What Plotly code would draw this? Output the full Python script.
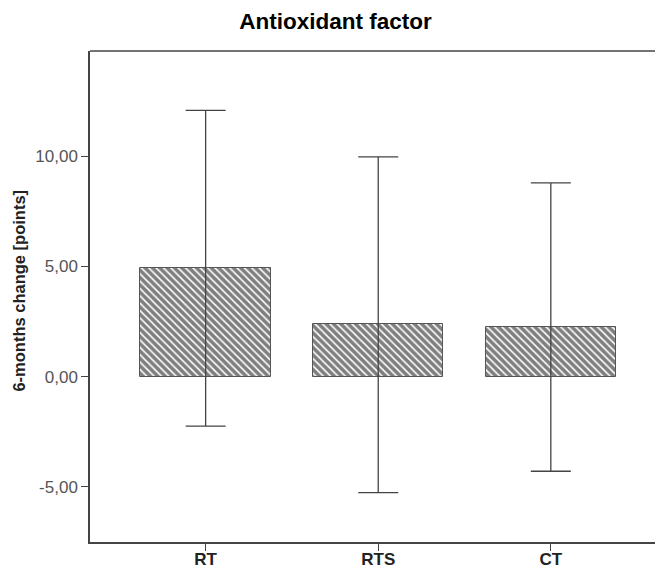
import plotly.graph_objects as go

categories = ["RT", "RTS", "CT"]
means = [4.92, 2.38, 2.27]
upper = [12.09, 9.98, 8.80]
lower = [-2.24, -5.26, -4.29]
ytick_vals = [-5, 0, 5, 10]
ytick_text = ["-5,00", "0,00", "5,00", "10,00"]

err_plus = [u - m for u, m in zip(upper, means)]
err_minus = [m - l for m, l in zip(means, lower)]

FONT = "Liberation Sans, Arial"

fig = go.Figure()
fig.add_trace(go.Bar(
    x=categories,
    y=means,
    width=0.755,
    marker=dict(
        color="white",
        line=dict(color="#555555", width=1),
        pattern=dict(shape="\\", fgcolor="black", bgcolor="white", size=5.2, solidity=0.7),
    ),
    error_y=dict(
        type="data", symmetric=False, array=err_plus, arrayminus=err_minus,
        color="#444444", thickness=1.3, width=20,
    ),
    showlegend=False,
))

# page body has an 8px default margin, so the figure is sized to fit the window
fig.update_layout(
    width=655, height=560,
    margin=dict(l=82, r=0, t=43, b=26, autoexpand=False),
    paper_bgcolor="white", plot_bgcolor="white",
    title=dict(text="<b>Antioxidant factor</b>", x=0.5, xref="container", xanchor="center",
               y=1 - 13 / 560, yanchor="middle",
               font=dict(family=FONT, size=22.5, color="black")),
    font=dict(family=FONT),
    bargap=0,
)
fig.update_xaxes(
    type="category", range=[-0.67, 2.65], showgrid=False, zeroline=False,
    showline=True, linecolor="#444444", linewidth=1.5,
    ticks="outside", ticklen=7, tickwidth=1.3, tickcolor="#444444",
    ticklabelstandoff=-6,
    tickfont=dict(family=FONT, size=17, color="#222222", weight="bold"),
    automargin=False,
)
fig.update_yaxes(
    range=[-7.5, 14.78], showgrid=False, zeroline=False,
    showline=True, linecolor="#444444", linewidth=1.5,
    ticks="outside", ticklen=7, tickwidth=1.3, tickcolor="#444444",
    tickvals=ytick_vals, ticktext=ytick_text,
    tickfont=dict(family=FONT, size=17, color="#555555"),
    automargin=False,
)
fig.add_annotation(
    text="<b>6-months change [points]</b>", textangle=-90,
    xref="paper", yref="paper", x=(11.5 - 82) / 573, y=0.511,
    xanchor="center", yanchor="middle", showarrow=False,
    font=dict(family=FONT, size=16.5, color="#222222"),
)
fig.add_shape(type="line", xref="paper", yref="paper", x0=0, x1=1, y0=1, y1=1,
              line=dict(color="#444444", width=1.5))

fig.write_html("out.html")
